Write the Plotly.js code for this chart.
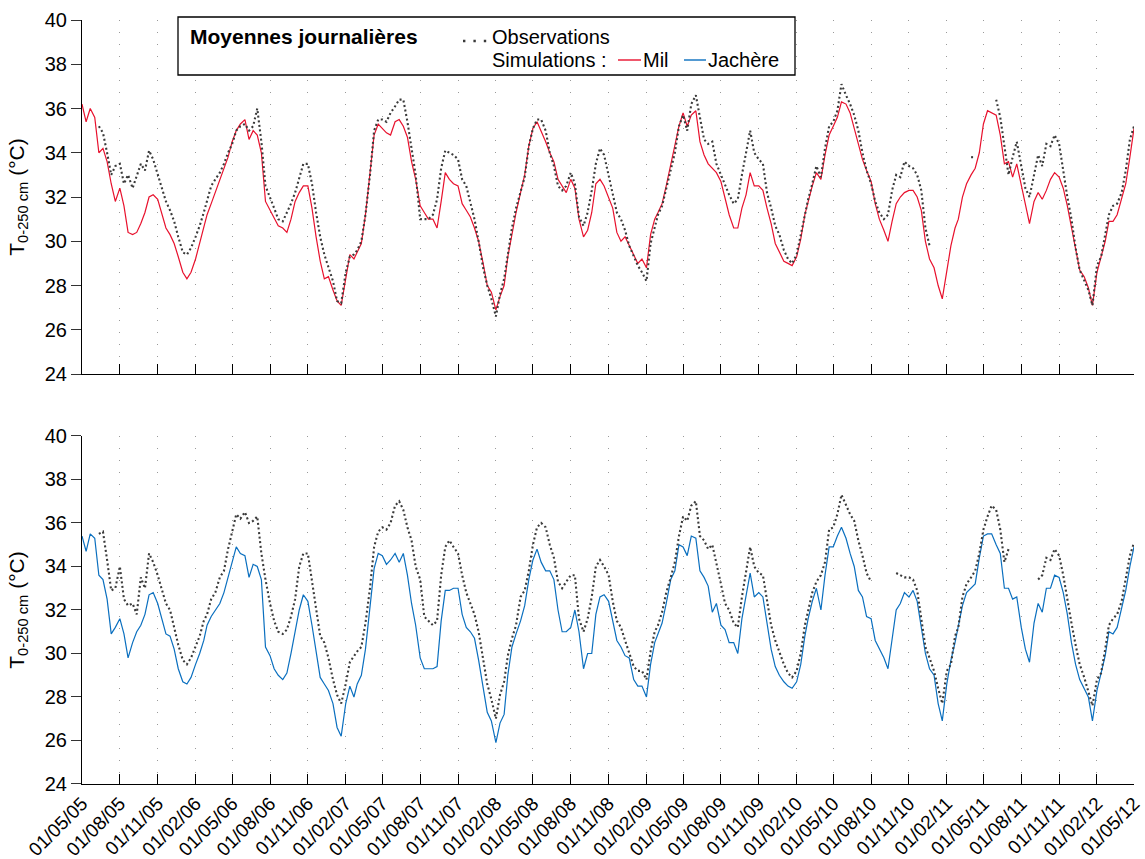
<!DOCTYPE html>
<html>
<head>
<meta charset="utf-8">
<script src="https://cdn.plot.ly/plotly-3.0.1.min.js"></script>
<style>html,body{margin:0;padding:0;background:#fff;}#chart{width:1145px;height:859px;}</style>
</head>
<body>
<div id="chart"></div>
<script>
// Sample dates: 1st, 11th and 21st of each month, 01/05/2005 -> 01/05/2012
const sampleDays = [1, 11, 21];
const dates = [];
for (let y = 2005; y <= 2012; y++) {
  for (let m = 1; m <= 12; m++) {
    for (const d of sampleDays) {
      if (y === 2005 && m < 5) continue;
      if (y === 2012 && (m > 5 || (m === 5 && d > 1))) continue;
      dates.push(y + '-' + String(m).padStart(2, '0') + '-' + String(d).padStart(2, '0'));
    }
  }
}

// Top panel: observations and simulation "Mil" (°C)
const obsTop = [
  null,null,null,null,35.2,34.9,34.0,33.0,33.4,
  33.5,32.6,33.0,32.4,33.0,33.5,33.2,34.1,33.7,
  33.0,32.4,31.8,31.4,30.9,30.2,29.5,29.4,29.7,
  30.2,30.7,31.3,31.8,32.5,32.8,33.1,33.5,34.0,
  34.4,35.0,35.2,35.3,35.0,35.2,36.0,34.5,32.5,
  32.0,31.5,31.0,30.9,31.3,31.7,32.2,32.9,33.5,
  33.5,32.6,31.3,30.2,29.4,28.8,28.2,27.3,27.2,
  28.6,29.3,29.4,29.6,30.0,31.2,33.0,35.0,35.5,
  35.5,35.4,35.8,36.1,36.4,36.4,35.4,34.2,33.0,
  31.0,31.0,31.0,31.2,31.9,33.3,34.1,34.0,33.9,
  33.7,32.8,32.5,31.7,31.0,30.0,28.8,28.0,27.4,
  26.6,27.6,28.3,29.5,30.6,31.5,32.3,32.9,34.3,
  35.1,35.5,35.5,35.0,34.0,33.4,32.5,32.3,32.5,
  33.1,32.6,31.1,30.7,31.3,32.3,33.5,34.2,33.9,
  33.0,32.2,31.3,31.0,30.5,29.8,29.3,28.9,28.6,
  28.2,29.9,30.7,31.2,31.6,32.4,33.2,34.0,35.2,
  35.7,35.0,36.2,36.6,35.5,34.6,34.4,34.5,33.5,
  33.0,32.5,32.1,31.7,31.9,33.0,34.0,35.0,34.0,
  33.7,33.5,32.2,31.5,30.7,30.3,29.6,29.2,29.0,
  29.4,30.3,31.3,31.9,32.6,33.4,32.9,34.2,35.2,
  35.4,35.9,37.1,36.6,36.2,35.7,35.0,34.0,33.2,
  32.6,31.8,31.3,31.0,31.2,32.3,33.0,32.9,33.6,
  33.4,33.3,33.0,32.3,30.6,29.8,null,null,null,
  null,null,null,null,null,null,33.8,33.8,null,
  null,null,null,36.4,35.6,34.3,33.0,33.8,34.5,
  33.4,32.4,32.0,33.0,33.9,33.4,34.4,34.3,34.8,
  34.4,33.1,32.0,31.0,29.7,28.7,28.2,27.8,27.1,
  28.9,29.3,30.3,31.2,31.6,31.7,32.2,33.2,34.6,35.2
];
const milSim = [
  36.2,35.4,36.0,35.6,34.0,34.2,33.6,32.6,31.8,
  32.4,31.6,30.4,30.3,30.4,30.8,31.3,32.0,32.1,
  31.9,31.2,30.6,30.3,29.9,29.3,28.6,28.3,28.6,
  29.2,29.9,30.6,31.2,31.7,32.2,32.8,33.3,33.8,
  34.5,35.0,35.3,35.5,34.6,35.0,34.8,34.0,31.8,
  31.4,31.0,30.7,30.6,30.4,31.0,31.8,32.2,32.5,
  32.5,31.5,30.2,29.1,28.3,28.4,27.8,27.3,27.1,
  28.3,29.4,29.2,29.5,29.9,31.2,33.0,34.8,35.3,
  35.1,34.9,34.8,35.4,35.5,35.2,34.7,33.6,32.8,
  31.6,31.3,31.0,31.0,30.6,31.8,33.1,32.8,32.6,
  32.5,31.7,31.4,31.1,30.6,30.0,29.0,28.0,27.7,
  26.9,27.5,28.0,29.3,30.3,31.3,32.2,33.0,34.3,
  35.1,35.4,35.0,34.5,34.0,33.6,32.8,32.5,32.2,
  32.8,32.4,31.0,30.2,30.5,31.3,32.6,32.8,32.5,
  32.0,31.5,30.4,30.0,30.2,29.8,29.4,29.0,29.2,
  28.8,30.3,31.0,31.3,31.7,32.5,33.5,34.3,35.2,
  35.8,35.2,35.7,35.9,34.5,33.9,33.5,33.3,33.1,
  32.7,32.0,31.2,30.6,30.6,31.5,32.1,33.1,32.5,
  32.5,32.3,31.5,30.8,29.9,29.5,29.1,29.0,28.9,
  29.3,30.1,31.2,31.8,32.5,33.1,32.8,33.9,34.8,
  35.2,35.6,36.3,36.2,35.8,35.1,34.3,33.7,33.2,
  32.7,31.7,31.0,30.5,30.0,30.9,31.7,32.0,32.2,
  32.3,32.3,32.0,31.4,30.0,29.2,28.8,28.0,27.4,
  28.6,29.8,30.6,31.0,32.0,32.6,33.0,33.3,34.0,
  35.3,35.9,35.8,35.7,34.8,33.5,33.6,32.9,33.5,
  32.5,31.7,30.8,31.8,32.2,31.9,32.3,32.8,33.1,
  32.9,32.4,31.6,30.6,29.6,28.7,28.4,27.9,27.1,
  28.6,29.3,30.0,30.9,30.9,31.2,32.0,32.6,33.8,35.1
];

// Bottom panel: observations and simulation "Jachère" (°C)
const obsBottom = [
  null,null,null,null,35.5,35.6,34.3,32.9,33.0,
  34.0,32.5,32.2,32.3,31.8,33.5,33.0,34.6,34.2,
  33.6,33.0,32.3,32.0,31.2,30.4,29.7,29.5,29.8,
  30.3,30.8,31.5,31.8,32.5,32.8,33.5,33.8,34.8,
  35.6,36.4,36.2,36.5,36.0,36.1,36.3,34.6,33.4,
  32.3,31.5,31.0,30.9,31.1,31.7,32.5,34.0,34.6,
  34.6,33.3,32.0,30.8,30.5,29.8,28.8,28.1,27.7,
  28.6,29.6,29.9,30.1,30.3,31.4,33.0,34.9,35.6,
  35.8,35.7,36.0,36.8,37.0,36.6,35.8,35.2,34.0,
  33.4,31.7,31.5,31.3,31.5,33.6,34.9,35.2,34.9,
  34.6,33.6,32.8,32.3,31.8,31.0,29.7,28.6,27.9,
  27.0,28.1,28.7,29.9,30.7,31.3,32.6,32.9,33.8,
  35.0,35.8,36.0,35.8,35.0,34.4,33.3,33.0,33.3,
  33.6,33.6,31.6,31.0,31.6,32.6,34.0,34.3,34.0,
  33.6,32.4,31.5,31.2,30.6,30.0,29.4,29.2,29.2,
  28.8,30.1,31.0,31.3,31.9,32.8,33.5,34.2,35.4,
  36.3,36.1,36.8,37.0,35.4,35.2,34.8,35.0,34.2,
  33.2,32.3,32.0,31.4,31.2,32.6,33.8,34.9,34.0,
  33.7,33.6,32.5,31.3,30.6,30.1,29.5,29.1,28.9,
  29.2,30.0,31.3,32.0,32.8,33.3,33.6,34.2,35.7,
  35.8,36.4,37.3,36.8,36.4,36.1,35.2,34.5,33.7,
  33.3,null,null,null,null,null,33.7,33.6,33.5,
  33.5,33.4,32.9,31.7,30.3,29.8,29.2,28.4,27.7,
  29.2,29.5,30.8,31.2,32.6,33.2,33.5,33.8,34.6,
  35.7,36.3,36.8,36.6,35.7,34.2,34.8,null,null,
  null,null,null,null,33.4,33.6,34.4,34.3,34.8,
  34.5,33.6,32.4,31.4,30.4,29.5,28.9,28.2,27.6,
  28.8,29.1,30.2,31.3,31.6,31.8,32.4,33.4,34.5,35.1
];
const jachereSim = [
  35.4,34.7,35.5,35.3,33.6,33.4,32.5,30.9,31.2,
  31.6,30.9,29.8,30.5,31.0,31.3,31.8,32.7,32.8,
  32.3,31.6,30.9,30.8,30.2,29.3,28.7,28.6,28.9,
  29.5,30.0,30.6,31.3,31.7,32.0,32.3,32.8,33.5,
  34.3,34.9,34.6,34.5,33.5,34.1,34.0,33.4,30.3,
  29.9,29.3,29.0,28.8,29.1,30.0,31.0,32.0,32.7,
  32.4,31.3,30.0,28.9,28.6,28.3,27.7,26.6,26.2,
  27.7,28.5,28.0,28.6,29.0,30.2,32.3,33.9,34.6,
  34.5,34.1,34.3,34.6,34.2,34.6,33.6,32.3,31.3,
  29.8,29.3,29.3,29.3,29.4,31.5,32.9,32.9,33.0,
  33.0,31.8,31.2,31.0,30.7,29.7,28.5,27.3,26.9,
  25.9,26.8,27.2,29.0,30.3,30.9,31.5,32.2,33.4,
  34.3,34.8,34.2,33.8,33.8,33.4,32.0,31.0,31.0,
  31.2,32.0,31.0,29.3,30.0,30.0,31.8,32.6,32.7,
  32.4,31.5,30.6,30.3,29.9,29.8,28.8,28.5,28.5,
  28.0,29.5,30.5,30.9,31.4,32.3,33.4,33.8,35.0,
  34.9,34.5,35.4,35.3,33.8,33.5,33.1,31.9,32.3,
  31.3,31.1,30.5,30.5,30.0,31.6,32.6,33.7,32.6,
  32.8,32.6,31.3,30.2,29.4,29.0,28.7,28.5,28.4,
  28.7,29.5,30.8,31.6,32.4,33.0,32.0,33.6,34.9,
  34.9,35.4,35.8,35.3,34.6,34.0,32.9,32.6,31.7,
  31.6,30.6,30.2,29.8,29.3,30.7,32.0,32.3,32.8,
  32.6,32.9,32.4,31.2,30.0,29.3,29.0,27.7,26.9,
  28.6,29.7,30.5,31.2,32.2,32.8,33.0,33.2,34.4,
  35.4,35.5,35.5,35.0,34.6,33.0,33.0,32.5,32.6,
  31.2,30.2,29.6,31.4,32.3,31.9,33.0,33.0,33.6,
  33.5,32.8,31.8,30.5,29.5,28.8,28.4,28.0,26.9,
  28.3,29.1,29.9,31.0,30.9,31.2,32.1,32.9,34.0,34.9
];

const legendTitle = 'Moyennes journalières';
const obsLabel = 'Observations';
const simLabel = 'Simulations :';
const milLabel = 'Mil';
const jachereLabel = 'Jachère';
const yTitle = 'T<sub>0-250 cm</sub> (°C)';

const RED = '#e8112d', BLUE = '#0a6fbf', OBS = '#3a3a3a';
const FONT = '"Liberation Sans", Arial, sans-serif';
const obsLine = {color: OBS, width: 2.1, dash: '2px,2.6px'};

const traces = [
  {x: dates, y: milSim, xaxis: 'x2', yaxis: 'y2', type: 'scatter', mode: 'lines', name: milLabel,
   line: {color: RED, width: 1.2}},
  {x: dates, y: obsTop, xaxis: 'x2', yaxis: 'y2', type: 'scatter', mode: 'lines', name: obsLabel,
   line: obsLine, connectgaps: false},
  {x: dates, y: jachereSim, xaxis: 'x', yaxis: 'y', type: 'scatter', mode: 'lines', name: jachereLabel,
   line: {color: BLUE, width: 1.2}},
  {x: dates, y: obsBottom, xaxis: 'x', yaxis: 'y', type: 'scatter', mode: 'lines', name: obsLabel,
   line: obsLine, connectgaps: false}
];

const xCommon = {
  type: 'date', range: ['2005-05-01', '2012-05-01'],
  tick0: '2005-05-01', dtick: 'M3', tickformat: '%d/%m/%y',
  showgrid: true, gridcolor: '#9a9a9a', griddash: '1px,11px', gridwidth: 1,
  showline: true, linecolor: '#000', linewidth: 1,
  ticks: 'inside', ticklen: 10, tickcolor: '#000', zeroline: false
};
const yCommon = {
  range: [24, 40], dtick: 2, tick0: 24, showgrid: false, zeroline: false,
  showline: true, linecolor: '#000', linewidth: 1,
  ticks: 'outside', ticklen: 10, tickcolor: '#333',
  tickfont: {family: FONT, size: 20, color: '#000'},
  title: {text: yTitle, font: {family: FONT, size: 21, color: '#000'}, standoff: 14}
};

function px(v) { return (v - 82) / 1052; }
function py(v) { return (784 - v) / 764; }

const legFont = {family: FONT, size: 20, color: '#000'};

const layout = {
  width: 1145, height: 859,
  margin: {l: 82, r: 11, t: 20, b: 75},
  paper_bgcolor: '#fff', plot_bgcolor: '#fff',
  showlegend: false,
  font: {family: FONT, color: '#000'},
  xaxis: Object.assign({}, xCommon, {anchor: 'y', tickangle: -45,
    tickfont: {family: FONT, size: 19, color: '#000'}}),
  xaxis2: Object.assign({}, xCommon, {anchor: 'y2', matches: 'x', showticklabels: false}),
  yaxis: Object.assign({}, yCommon, {domain: [0, 0.4555], anchor: 'x'}),
  yaxis2: Object.assign({}, yCommon, {domain: [0.5366, 1], anchor: 'x2'}),
  shapes: [
    {type: 'rect', xref: 'paper', yref: 'paper', x0: px(178), x1: px(795), y0: py(75), y1: py(17),
     line: {color: '#000', width: 1.3}, fillcolor: '#fff', layer: 'above'},
    {type: 'line', xref: 'paper', yref: 'paper', x0: px(463), x1: px(487), y0: py(41), y1: py(41),
     line: {color: OBS, width: 2.4, dash: '2.4px,8px'}, layer: 'above'},
    {type: 'line', xref: 'paper', yref: 'paper', x0: px(618), x1: px(641), y0: py(60), y1: py(60),
     line: {color: RED, width: 1.4}, layer: 'above'},
    {type: 'line', xref: 'paper', yref: 'paper', x0: px(684), x1: px(706), y0: py(60), y1: py(60),
     line: {color: BLUE, width: 1.4}, layer: 'above'}
  ],
  annotations: [
    {xref: 'paper', yref: 'paper', x: px(188), y: py(36), xanchor: 'left', yanchor: 'middle',
     text: '<b>' + legendTitle + '</b>', showarrow: false,
     font: {family: FONT, size: 21, color: '#000'}},
    {xref: 'paper', yref: 'paper', x: px(490), y: py(37), xanchor: 'left', yanchor: 'middle',
     text: obsLabel, showarrow: false, font: legFont},
    {xref: 'paper', yref: 'paper', x: px(490), y: py(60), xanchor: 'left', yanchor: 'middle',
     text: simLabel, showarrow: false, font: legFont},
    {xref: 'paper', yref: 'paper', x: px(641), y: py(60), xanchor: 'left', yanchor: 'middle',
     text: milLabel, showarrow: false, font: legFont},
    {xref: 'paper', yref: 'paper', x: px(706), y: py(60), xanchor: 'left', yanchor: 'middle',
     text: jachereLabel, showarrow: false, font: legFont}
  ]
};

Plotly.newPlot('chart', traces, layout, {displayModeBar: false, staticPlot: true});
</script>
</body>
</html>
